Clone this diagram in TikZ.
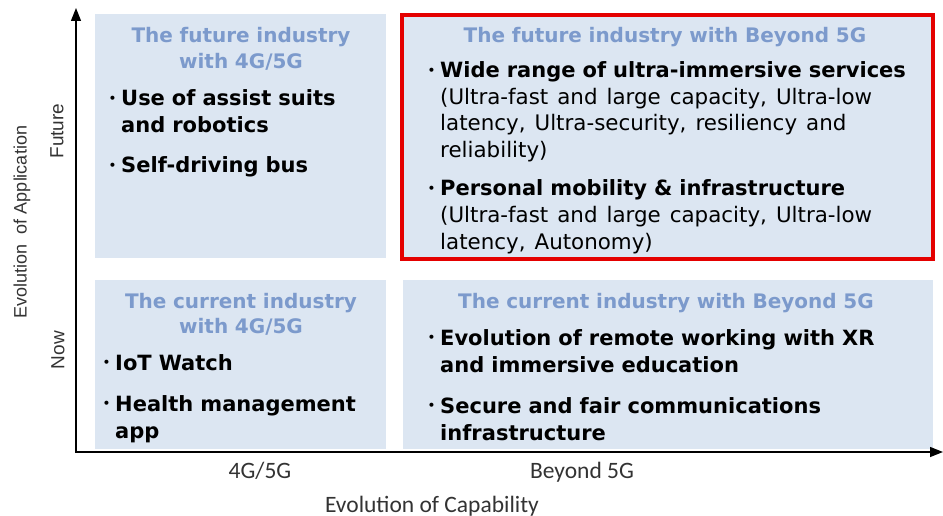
\documentclass[tikz,border=0pt]{standalone}
\usepackage{fontspec}
\setmainfont{DejaVu Sans}
\newfontfamily\capfont{Carlito}
\newfontfamily\appfont{Liberation Sans}
\usepackage{graphicx}
\usetikzlibrary{positioning, arrows.meta}
\definecolor{boxfill}{RGB}{220,230,242}
\definecolor{titleblue}{RGB}{124,154,204}
\definecolor{redframe}{RGB}{228,0,0}
\newcommand{\bul}{\llap{\raisebox{0.3ex}{\scalebox{0.55}{\textbullet}}\hspace{5pt}}}
\tikzset{
    quad/.style={rectangle, fill=boxfill, inner sep=0pt},
    hot/.style={draw=redframe, line width=4pt},
    heading/.style={anchor=base, align=center, inner sep=0pt, text=titleblue, font=\fontsize{20}{25.5}\selectfont\bfseries},
    items/.style={anchor=base west, align=left, inner sep=0pt, font=\fontsize{21}{27}\selectfont\bfseries},
    axis/.style={line width=1.4pt, -{Triangle[length=13pt, width=10pt]}},
    tick/.style={anchor=base, inner sep=0pt, text=black!80, font=\capfont\fontsize{23.5}{28}\selectfont},
    side/.style={inner sep=0pt, rotate=90, text=black!80, font=\appfont\fontsize{19}{22}\selectfont}
}
\newcommand{\plain}{\mdseries\fontsize{21.4}{26.5}\selectfont\spaceskip=0.42em plus 0.1em}

\begin{document}
\begin{tikzpicture}[x=1pt, y=-1pt]
\useasboundingbox (0,0) rectangle (943,516);

% Quadrants
\node[quad, minimum width=291pt, minimum height=244pt] (fut4g) at (240.5,136) {};
\node[quad, hot, minimum width=531pt, minimum height=244pt] (futb5g) at (667.5,137) {};
\node[quad, minimum width=291pt, minimum height=169pt] (cur4g) at (240.5,364.5) {};
\node[quad, minimum width=530pt, minimum height=169pt] (curb5g) at (667.5,364.5) {};

% Headings
\node[heading, text width=285pt] (fut4gtitle) at (241,43) {The future industry\\with 4G/5G};
\node[heading, text width=520pt] (futb5gtitle) at (665,43) {The future industry with Beyond 5G};
\node[heading, text width=285pt] (cur4gtitle) at (241,308) {The current industry\\with 4G/5G};
\node[heading, text width=520pt] (curb5gtitle) at (666,308) {The current industry with Beyond 5G};

% Items
\node[items, text width=260pt] (assist) at (121,106) {\bul Use of assist suits\\and robotics};
\node[items, text width=260pt] (bus) at (121,173) {\bul Self-driving bus};
\node[items, text width=490pt] (immersive) at (440,78) {\bul Wide range of ultra-immersive services\\
  {\plain (Ultra-fast and large capacity, Ultra-low\\latency, Ultra-security, resiliency and\\reliability)}};
\node[items, text width=490pt] (mobility) at (440,196) {\bul Personal mobility \& infrastructure\\
  {\plain (Ultra-fast and large capacity, Ultra-low\\latency, Autonomy)}};
\node[items, text width=265pt] (watch) at (115,370) {\bul IoT Watch};
\node[items, text width=265pt] (health) at (115,411) {\bul Health management\\app};
\node[items, text width=490pt] (remote) at (440,345) {\bul Evolution of remote working with XR\\and immersive education};
\node[items, text width=490pt] (secure) at (440,413) {\bul Secure and fair communications\\infrastructure};

% Axes
\coordinate (origin) at (76,452);
\coordinate (xstart) at (75.3,452);
\coordinate (ytop) at (76,8);
\coordinate (xend) at (943,452);
\draw[axis] (origin) -- (ytop);
\draw[axis] (xstart) -- (xend);

% Axis labels
\node[tick] (lbl4g) at (260,478) {4G/5G};
\node[tick] (lblb5g) at (582,478) {Beyond 5G};
\node[tick] (capab) at (432,512) {Evolution of Capability};
\node[side, font=\appfont\fontsize{18}{22}\selectfont] (appl) at (22,222) {Evolution\ \ of Application};
\node[side] (future) at (57,131) {Future};
\node[side] (now) at (58,350) {Now};

\end{tikzpicture}
\end{document}
